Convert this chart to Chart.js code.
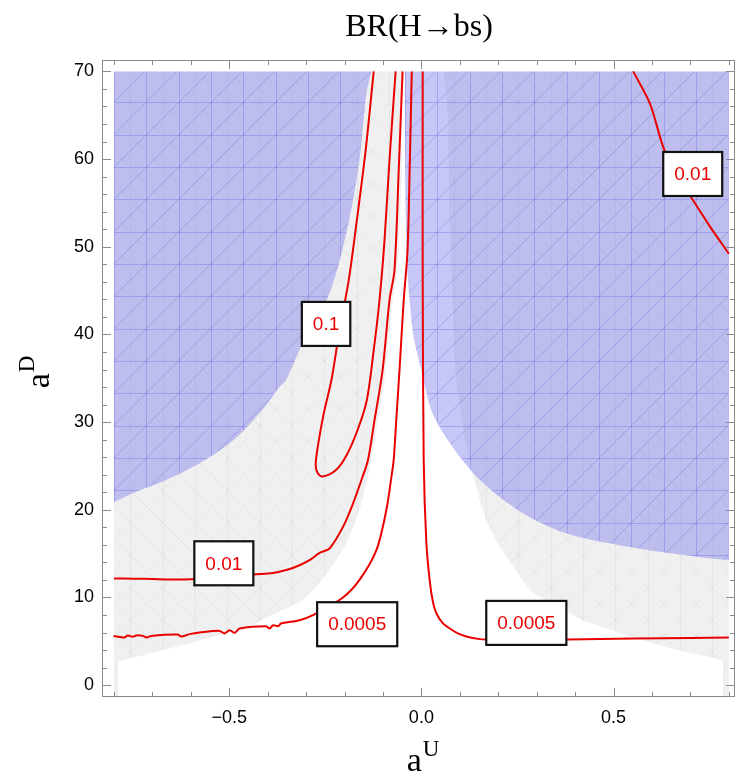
<!DOCTYPE html>
<html><head><meta charset="utf-8">
<script src="https://cdn.jsdelivr.net/npm/chart.js@4.4.1/dist/chart.umd.min.js"></script>
<style>html,body{margin:0;padding:0;background:#fff}#wrap{position:relative;width:738px;height:781px}</style>
</head><body><div id="wrap"><canvas id="c"></canvas></div>
<script>
// ---------- axis ticks ----------
const xTickValues = [-0.5, 0, 0.5];
const xMinorTickValues = [-0.8,-0.7,-0.6,-0.4,-0.3,-0.2,-0.1,0.1,0.2,0.3,0.4,0.6,0.7,0.8];
const yTickValues = [0,10,20,30,40,50,60,70];
const yMinorTickValues = [2,4,6,8,12,14,16,18,22,24,26,28,32,34,36,38,42,44,46,48,52,54,56,58,62,64,66,68];
const xRange = [-0.831, 0.816];
const yRange = [-1.35, 71.3];

// ---------- regions ----------
const scannedTop = [[-0.8,70],[0.8,70]];               // scanned area (gray)
const whiteBoundary = [[-0.79,2.66],[-0.708,3.6],[-0.577,5.1],[-0.447,6.8],[-0.369,8.4],[-0.317,9.5],[-0.282,10.8],[-0.239,13.1],[-0.195,16.2],[-0.161,20.0],[-0.139,23.75],[-0.13,25.7],[-0.113,30.2],[-0.093,35.9],[-0.075,43.9],[-0.062,47.3],[-0.051,58.7],[-0.041,70],[0.056,70],[0.074,52.3],[0.087,37],[0.091,34.8],[0.117,27.2],[0.143,22.6],[0.169,18.8],[0.204,15.8],[0.29,10.6],[0.36,8.9],[0.42,7.4],[0.447,7.0],[0.534,5.7],[0.62,4.56],[0.707,3.6],[0.785,2.85]];
const excludedLeft = [[-0.8,20.9],[-0.751,21.9],[-0.664,23.4],[-0.577,25.3],[-0.49,27.9],[-0.421,31.0],[-0.369,34.0],[-0.352,34.8],[-0.309,39.0],[-0.239,44.7],[-0.192,52.2],[-0.161,59.9],[-0.143,67.5],[-0.130,70]];
const excludedRight = [[-0.043,70],[-0.042,59.9],[-0.038,48.5],[-0.030,43.6],[-0.020,39.7],[0.0,35.9],[0.029,31.0],[0.082,27.1],[0.152,23.4],[0.264,19.6],[0.378,17.3],[0.55,15.7],[0.725,14.6],[0.80,14.25]];

// ---------- contours ----------
const contour0p1 = [[-0.124,70],[-0.145,61.0],[-0.168,53.0],[-0.189,46.2],[-0.213,40.5],[-0.234,34.8],[-0.254,31.0],[-0.270,27.1],[-0.275,25.1],[-0.270,24.2],[-0.257,23.8],[-0.223,24.5],[-0.195,26.2],[-0.166,29.1],[-0.142,32.5],[-0.124,38.2],[-0.109,43.9],[-0.096,50.7],[-0.083,59.9],[-0.067,70]];
const contour0p01Left = [[-0.80,12.17],[-0.75,12.15],[-0.70,12.1],[-0.65,12.05],[-0.60,12.08],[-0.5,12.3],[-0.439,12.62],[-0.386,12.8],[-0.347,13.19],[-0.317,13.68],[-0.291,14.25],[-0.265,15.09],[-0.239,15.59],[-0.204,18.05],[-0.178,20.7],[-0.156,23.4],[-0.139,25.66],[-0.122,30.2],[-0.101,35.9],[-0.083,43.9],[-0.070,47.3],[-0.059,58.7],[-0.049,70]];
const contour0p01Right = [[0.551,70],[0.595,66.3],[0.629,61.4],[0.66,58.5],[0.707,55.3],[0.751,52.3],[0.80,49.2]];
const contour0p0005Left = [[-0.801,5.62],[-0.773,5.44],[-0.764,5.67],[-0.751,5.51],[-0.742,5.67],[-0.725,5.62],[-0.715,5.44],[-0.703,5.62],[-0.634,5.78],[-0.625,5.55],[-0.603,5.82],[-0.577,6.0],[-0.525,6.19],[-0.512,5.9],[-0.499,6.27],[-0.486,5.97],[-0.473,6.46],[-0.404,6.73],[-0.395,6.46],[-0.386,6.84],[-0.373,6.73],[-0.365,7.03],[-0.317,7.41],[-0.282,7.98],[-0.204,10.0],[-0.161,12.0],[-0.117,15.4],[-0.091,20.0],[-0.078,23.75],[-0.072,25.7],[-0.067,29.1],[-0.057,35.9],[-0.046,43.9],[-0.036,49.6],[-0.030,59.9],[-0.025,70]];
const contour0p0005Right = [[0.0034,70],[0.0034,47.3],[0.006,25.7],[0.013,16.2],[0.022,11.8],[0.030,9.5],[0.039,8.2],[0.055,7.1],[0.074,6.46],[0.095,5.9],[0.117,5.55],[0.152,5.25],[0.169,5.21],[0.273,5.2],[0.379,5.21],[0.551,5.32],[0.70,5.38],[0.80,5.44]];
const contourLabelText = ['0.1','0.01','0.0005','0.0005','0.01'];
const contourLabelX = [-0.248,-0.514,-0.167,0.273,0.706];
const contourLabelY = [41.2,13.9,6.95,7.1,58.3];

const titleText = 'BR(H\u2192bs)';
const xLabel = ['a','U'];
const yLabel = ['a','D'];

const pts = a => a.map(([x,y]) => ({x,y}));
const canvas = document.getElementById('c');
const ctx0 = canvas.getContext('2d');

function makePattern(kind){
  const s = 97, d = s/3;
  const c = document.createElement('canvas'); c.width = s; c.height = s;
  const g = c.getContext('2d');
  if (kind === 'blue') {
    g.fillStyle = 'rgba(120,120,235,0.42)'; g.fillRect(0,0,s,s);
    g.strokeStyle = 'rgba(70,70,215,0.26)';
  } else {
    g.fillStyle = '#f0f0f0'; g.fillRect(0,0,s,s);
    g.strokeStyle = 'rgba(0,0,0,0.045)';
  }
  g.lineWidth = 1;
  g.beginPath();
  for (let i=0;i<3;i++){ const p = Math.round(i*d)+0.5;
    g.moveTo(p,0); g.lineTo(p,s);
    if (kind==='blue'){ g.moveTo(0,p); g.lineTo(s,p); } }
  for (let k=1;k<=5;k++){ const t=k*d;
    g.moveTo(Math.max(0,t-s), Math.min(s,t)); g.lineTo(Math.min(s,t), Math.max(0,t-s)); }
  if (kind!=='blue'){
    for (let k=-2;k<=2;k++){ const t=k*d;
      g.moveTo(Math.max(0,t), Math.max(0,-t)); g.lineTo(Math.min(s,s+t), Math.min(s,s-t)); }
  }
  g.stroke();
  const p = ctx0.createPattern(c,'repeat');
  p.setTransform(new DOMMatrix([1,0,0,1, kind==='blue'?114:98, 70]));
  return p;
}
const bluePat = makePattern('blue');
const grayPat = makePattern('gray');

const RED = 'rgb(235,0,0)';
function contourDS(data){ return {data: pts(data), showLine:true, borderColor:RED, borderWidth:2, pointRadius:0, fill:false, order:1, tension:0.3}; }

const decor = {
  id:'decor',
  afterDatasetsDraw(chart){
    const {ctx, chartArea:a, scales:{x,y}} = chart;
    // contour labels
    ctx.save();
    ctx.font = '19px "Liberation Sans", Arial, sans-serif';
    ctx.textAlign = 'center'; ctx.textBaseline = 'middle';
    for (let i=0;i<contourLabelText.length;i++){
      const cx = x.getPixelForValue(contourLabelX[i]), cy = y.getPixelForValue(contourLabelY[i]);
      const w = ctx.measureText(contourLabelText[i]).width + 22, h = 44;
      ctx.fillStyle = '#fff'; ctx.fillRect(cx-w/2, cy-h/2, w, h);
      ctx.strokeStyle = '#111'; ctx.lineWidth = 2.2; ctx.strokeRect(cx-w/2, cy-h/2, w, h);
      ctx.fillStyle = RED; ctx.fillText(contourLabelText[i], cx, cy+1);
    }
    ctx.restore();
    // frame and ticks
    ctx.save();
    ctx.strokeStyle = '#8a8a8a'; ctx.lineWidth = 1;
    ctx.strokeRect(Math.round(a.left)+0.5, Math.round(a.top)+0.5, Math.round(a.right-a.left)-1, Math.round(a.bottom-a.top)-1);
    ctx.beginPath();
    const tx = (v,len) => { const p = Math.round(x.getPixelForValue(v))+0.5;
      ctx.moveTo(p,a.bottom); ctx.lineTo(p,a.bottom-len); ctx.moveTo(p,a.top); ctx.lineTo(p,a.top+len); };
    const ty = (v,len) => { const p = Math.round(y.getPixelForValue(v))+0.5;
      ctx.moveTo(a.left,p); ctx.lineTo(a.left+len,p); ctx.moveTo(a.right,p); ctx.lineTo(a.right-len,p); };
    xTickValues.forEach(v=>tx(v,9)); xMinorTickValues.forEach(v=>tx(v,5));
    yTickValues.forEach(v=>ty(v,9)); yMinorTickValues.forEach(v=>ty(v,5));
    ctx.stroke();
    ctx.restore();
    // title & axis labels
    ctx.save();
    ctx.fillStyle = '#000';
    ctx.textBaseline = 'alphabetic';
    ctx.font = '32px "Liberation Serif", "Times New Roman", serif';
    ctx.textAlign = 'center';
    ctx.fillText(titleText, 419, 36);
    ctx.textAlign = 'left';
    const big = '34px "Liberation Serif", serif', small = '23px "Liberation Serif", serif';
    ctx.font = big; const wa = ctx.measureText(xLabel[0]).width;
    ctx.font = small; const wu = ctx.measureText(xLabel[1]).width;
    let sx = 423 - (wa+wu+1)/2;
    ctx.font = big; ctx.fillText(xLabel[0], sx, 771);
    ctx.font = small; ctx.fillText(xLabel[1], sx+wa+1, 756);
    ctx.translate(49, 372); ctx.rotate(-Math.PI/2);
    ctx.font = big; const wa2 = ctx.measureText(yLabel[0]).width;
    ctx.font = small; const wd = ctx.measureText(yLabel[1]).width;
    sx = -(wa2+wd+1)/2;
    ctx.font = big; ctx.fillText(yLabel[0], sx, 0);
    ctx.font = small; ctx.fillText(yLabel[1], sx+wa2+1, -15);
    ctx.restore();
  }
};

new Chart(canvas, {
  type: 'scatter',
  data: { datasets: [
    {data: pts(scannedTop), showLine:true, borderWidth:0, borderColor:'rgba(0,0,0,0)', backgroundColor: grayPat, fill:'start', pointRadius:0, order:10},
    {data: pts(whiteBoundary), showLine:true, borderWidth:0, borderColor:'rgba(0,0,0,0)', backgroundColor:'#ffffff', fill:'start', pointRadius:0, order:9, tension:0.2},
    {data: pts(excludedLeft), showLine:true, borderWidth:0, borderColor:'rgba(0,0,0,0)', backgroundColor: bluePat, fill:{value:70}, pointRadius:0, order:8, tension:0.3},
    {data: pts(excludedRight), showLine:true, borderWidth:0, borderColor:'rgba(0,0,0,0)', backgroundColor: bluePat, fill:{value:70}, pointRadius:0, order:7, tension:0.3},
    contourDS(contour0p1), contourDS(contour0p01Left), contourDS(contour0p01Right),
    contourDS(contour0p0005Left), contourDS(contour0p0005Right)
  ]},
  options: {
    responsive:true, maintainAspectRatio:false, animation:false,
    layout:{padding:{left:0, right:3, top:60, bottom:44}},
    plugins:{legend:{display:false}, tooltip:{enabled:false}, title:{display:false}},
    events: [],
    scales:{
      x:{type:'linear', min:xRange[0], max:xRange[1],
         grid:{display:false, drawTicks:false}, border:{display:false},
         afterBuildTicks: s => { s.ticks = xTickValues.map(v=>({value:v})); },
         afterFit: s => { s.height = 40; },
         ticks:{padding:10, color:'#000', font:{family:'"Liberation Sans", Arial, sans-serif', size:18},
                callback: v => (v<0?'\u2212':'') + Math.abs(v).toFixed(1)}},
      y:{type:'linear', min:yRange[0], max:yRange[1],
         grid:{display:false, drawTicks:false}, border:{display:false},
         afterBuildTicks: s => { s.ticks = yTickValues.map(v=>({value:v})); },
         afterFit: s => { s.width = 102; },
         ticks:{padding:8, color:'#000', font:{family:'"Liberation Sans", Arial, sans-serif', size:18},
                callback: v => String(v)}}
    }
  },
  plugins:[decor]
});
</script></body></html>
